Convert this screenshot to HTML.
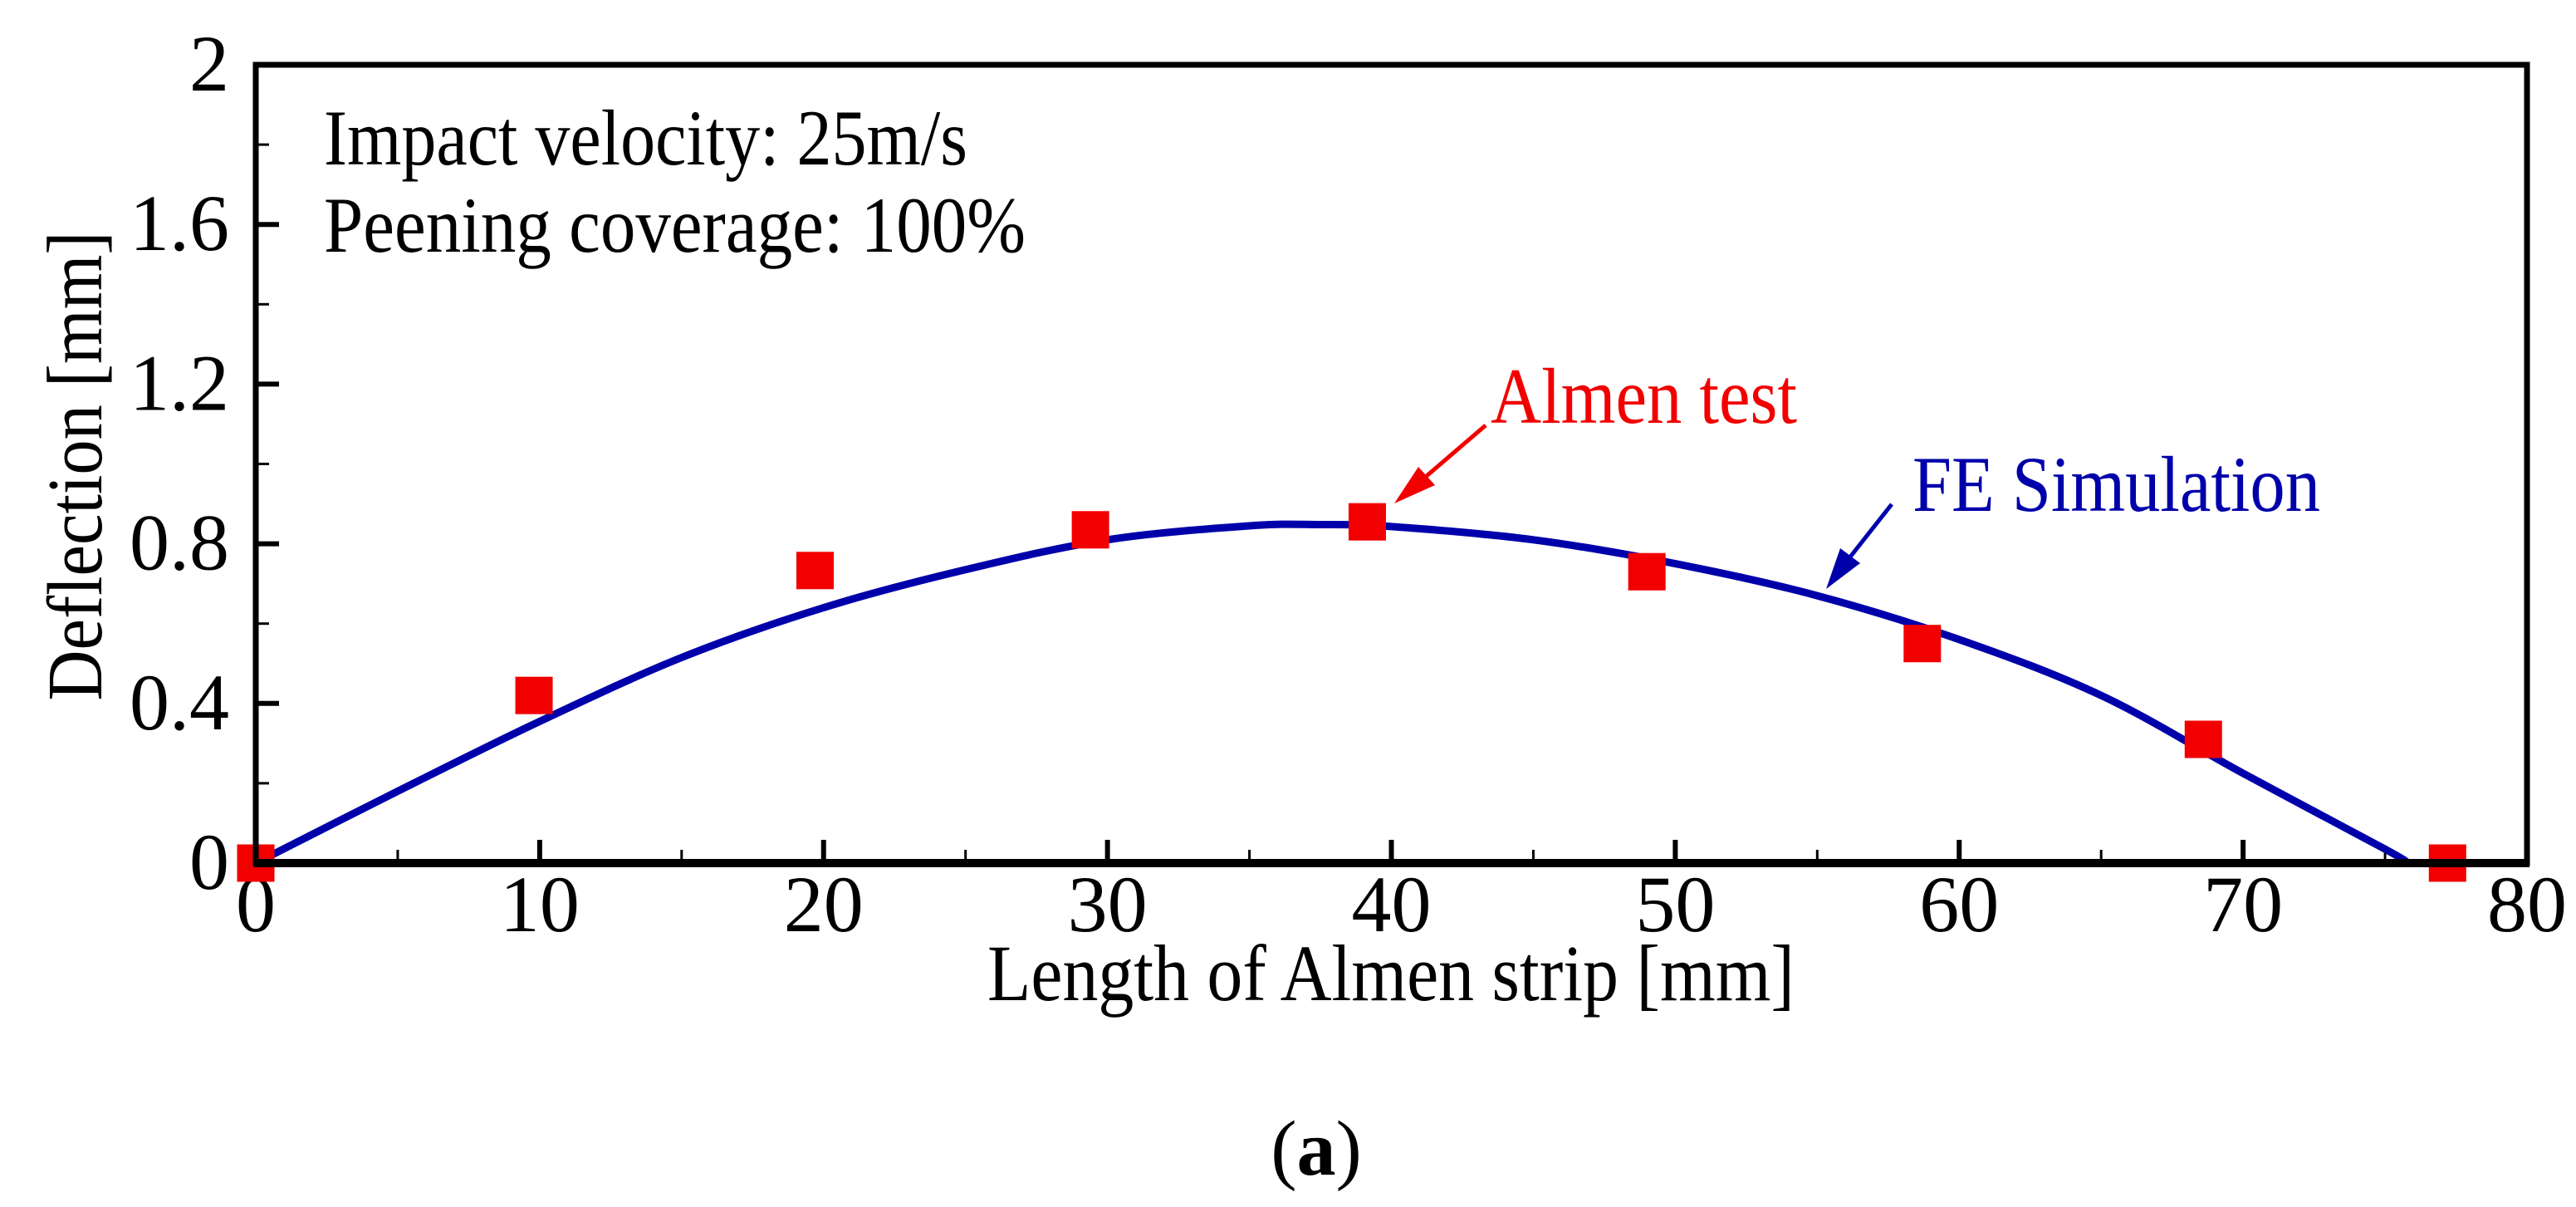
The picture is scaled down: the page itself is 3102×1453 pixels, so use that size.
<!DOCTYPE html>
<html><head><meta charset="utf-8"><style>
html,body{margin:0;padding:0;background:#fff;}
svg{display:block;font-family:"Liberation Serif","Times New Roman",serif;}
</style></head><body>
<svg id="chart" width="3102" height="1453" viewBox="0 0 3102 1453" xmlns="http://www.w3.org/2000/svg">
<rect width="3102" height="1453" fill="#fff"/>
<g id="ticks"></g>
<g id="labels"></g>
<g id="series"></g>
<rect x="308" y="78" width="2735" height="961" fill="none" stroke="#000" stroke-width="7"/>
<line x1="305" y1="1039" x2="3046" y2="1039" stroke="#000" stroke-width="10"/>
<text x="122" y="561" font-size="94" text-anchor="middle" transform="rotate(-90 122 561)" textLength="565" lengthAdjust="spacingAndGlyphs">Deflection [mm]</text>
<text x="1189" y="1204" font-size="96" textLength="972" lengthAdjust="spacingAndGlyphs">Length of Almen strip [mm]</text>
<text x="1585" y="1414" font-size="94" text-anchor="middle">(<tspan font-weight="bold">a</tspan>)</text>
<text x="390" y="198" font-size="95" textLength="775" lengthAdjust="spacingAndGlyphs">Impact velocity: 25m/s</text>
<text x="390" y="303" font-size="95" textLength="845" lengthAdjust="spacingAndGlyphs">Peening coverage: 100%</text>
<text x="1795" y="509" font-size="95" fill="#f20000" textLength="369" lengthAdjust="spacingAndGlyphs">Almen test</text>
<line x1="1789" y1="512" x2="1712" y2="578" stroke="#f20000" stroke-width="5"/>
<polygon points="1679,606 1708,562 1728,584" fill="#f20000"/>
<text x="2303" y="615" font-size="95" fill="#0000aa" textLength="491" lengthAdjust="spacingAndGlyphs">FE Simulation</text>
<line x1="2278" y1="607" x2="2222" y2="678" stroke="#0000aa" stroke-width="5"/>
<polygon points="2199,709 2216,660 2240,678" fill="#0000aa"/>
</svg>
<script>
const simX = [0, 5, 10, 15, 20, 25, 30, 35, 37.5, 40, 45, 50, 55, 60, 65, 70, 75, 75.8];
const simY = [0, 0.18, 0.355, 0.515, 0.64, 0.735, 0.81, 0.845, 0.848, 0.843, 0.81, 0.75, 0.67, 0.56, 0.42, 0.225, 0.035, 0];
const testX = [0, 9.8, 19.7, 29.4, 39.15, 49, 58.7, 68.6, 77.2];
const testY = [0, 0.42, 0.733, 0.835, 0.855, 0.73, 0.55, 0.31, 0];
const xTickLabels = ["0", "10", "20", "30", "40", "50", "60", "70", "80"];
const yTickLabels = ["0", "0.4", "0.8", "1.2", "1.6", "2"];

const NS = "http://www.w3.org/2000/svg";
const X0 = 308, X1 = 3043, Y0 = 1039, Y1 = 78;
function sx(v){ return X0 + (v / 80) * (X1 - X0); }
function sy(v){ return Y0 - (v / 2) * (Y0 - Y1); }
function mk(tag, attrs, parent){ const e = document.createElementNS(NS, tag); for (const k in attrs) e.setAttribute(k, attrs[k]); parent.appendChild(e); return e; }

const ticks = document.getElementById('ticks');
const labels = document.getElementById('labels');
const series = document.getElementById('series');

for (let i = 0; i <= 16; i++) {
  const v = i * 5, len = (i % 2 === 0) ? 28 : 16, w = (i % 2 === 0) ? 6 : 3;
  const t = mk('line', {x1: sx(v), x2: sx(v), y1: Y0, y2: Y0 - len, stroke: '#000', 'stroke-width': w}, ticks);
  
  
}
for (let i = 0; i <= 10; i++) {
  const v = i * 0.2, len = (i % 2 === 0) ? 28 : 16, w = (i % 2 === 0) ? 6 : 3;
  const t = mk('line', {x1: X0, x2: X0 + len, y1: sy(v), y2: sy(v), stroke: '#000', 'stroke-width': w}, ticks);
  
  
}
xTickLabels.forEach((s, i) => {
  const t = mk('text', {x: sx(i * 10), y: 1121, 'font-size': 96, 'text-anchor': 'middle'}, labels);
  t.textContent = s;
  
  
});
yTickLabels.forEach((s, i) => {
  const t = mk('text', {x: 276, y: sy(i * 0.4) + 31, 'font-size': 96, 'text-anchor': 'end'}, labels);
  t.textContent = s;
  
  
});

const pts = simX.map((v, i) => [sx(v), sy(simY[i])]);
let d = 'M' + pts[0][0].toFixed(1) + ' ' + pts[0][1].toFixed(1);
for (let i = 0; i < pts.length - 1; i++) {
  const p0 = pts[Math.max(0, i - 1)], p1 = pts[i], p2 = pts[i + 1], p3 = pts[Math.min(pts.length - 1, i + 2)];
  const c1 = [p1[0] + (p2[0] - p0[0]) / 6, p1[1] + (p2[1] - p0[1]) / 6];
  const c2 = [p2[0] - (p3[0] - p1[0]) / 6, p2[1] - (p3[1] - p1[1]) / 6];
  d += ' C' + c1[0].toFixed(1) + ' ' + c1[1].toFixed(1) + ' ' + c2[0].toFixed(1) + ' ' + c2[1].toFixed(1) + ' ' + p2[0].toFixed(1) + ' ' + p2[1].toFixed(1);
}
const path = mk('path', {d: d, fill: 'none', stroke: '#0000aa', 'stroke-width': 9, 'stroke-linejoin': 'round'}, series);



testX.forEach((v, i) => {
  const r = mk('rect', {x: sx(v) - 22.5, y: sy(testY[i]) - 22.5, width: 45, height: 45, fill: '#f20000'}, series);
  
  
});
</script>
</body></html>
